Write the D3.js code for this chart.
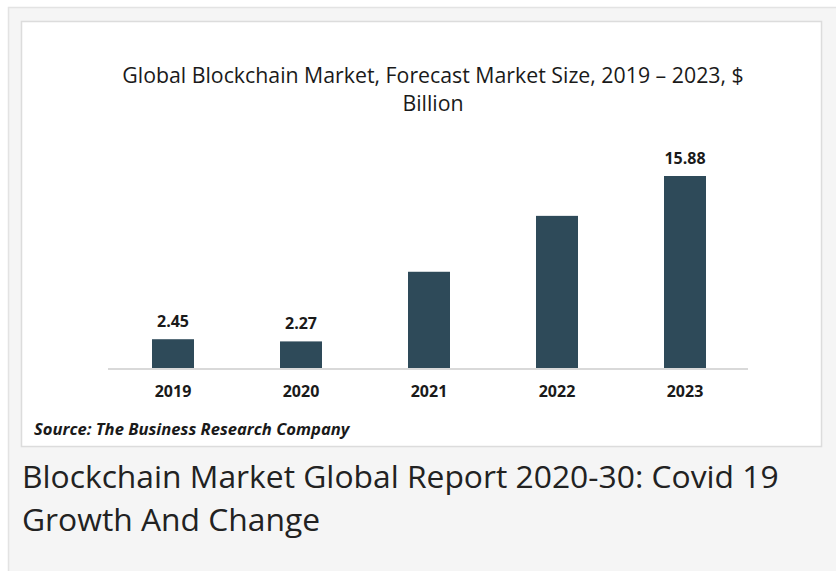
<!DOCTYPE html>
<html>
<head>
<meta charset="utf-8">
<script src="https://cdn.jsdelivr.net/npm/d3@7"></script>
<style>
  html, body { margin: 0; padding: 0; background: #ffffff; }
  svg { display: block; }
</style>
</head>
<body>
<svg id="chart" width="836" height="571"></svg>
<script>
const categories = ["2019", "2020", "2021", "2022", "2023"];
const values = [2.45, 2.27, 8.0, 12.6, 15.88];
const valueLabels = ["2.45", "2.27", "", "", "15.88"];
const titleLines = ["Global Blockchain Market, Forecast Market Size, 2019 \u2013 2023, $", "Billion"];
const sourceText = "Source: The Business Research Company";
const captionLines = ["Blockchain Market Global Report 2020-30: Covid 19", "Growth And Change"];

const svg = d3.select("#chart");
const font = "'Open Sans', sans-serif";

// page background panels
svg.append("rect").attr("x", 8.5).attr("y", 7.5).attr("width", 840).attr("height", 580)
  .attr("fill", "#f5f5f5").attr("stroke", "#e3e3e3").attr("stroke-width", 1.5);
svg.append("rect").attr("x", 21.5).attr("y", 21.5).attr("width", 800).attr("height", 425)
  .attr("fill", "#ffffff").attr("stroke", "#dcdcdc").attr("stroke-width", 1.5);

// title
const title = svg.append("text").attr("text-anchor", "middle")
  .attr("font-family", font).attr("font-size", 21.3).attr("fill", "#1a1a1a");
titleLines.forEach((t, i) => {
  title.append("tspan").attr("x", 433).attr("y", 83 + i * 27.5).text(t);
});

// scales
const x = d3.scaleBand().domain(categories).range([109, 749]).paddingInner(0.672).paddingOuter(0.336);
const y = d3.scaleLinear().domain([0, 15.88]).range([369, 176]);

// bars
svg.append("g").selectAll("rect").data(values).join("rect")
  .attr("x", (d, i) => x(categories[i]))
  .attr("y", d => y(d))
  .attr("width", x.bandwidth())
  .attr("height", d => y(0) - y(d))
  .attr("fill", "#2e4a59");

// baseline axis
const xAxis = d3.axisBottom(x).tickSize(0).tickPadding(17);
const gx = svg.append("g").attr("transform", `translate(0,${y(0)})`).call(xAxis);
gx.select(".domain").attr("stroke", "#d9d9d9").attr("stroke-width", 2)
  .attr("d", "M108,0H748");
gx.selectAll("text").attr("font-family", font).attr("font-size", 16)
  .attr("font-weight", "bold").attr("fill", "#1a1a1a");

// value labels
svg.append("g").selectAll("text").data(values).join("text")
  .attr("x", (d, i) => x(categories[i]) + x.bandwidth() / 2)
  .attr("y", d => y(d) - 12)
  .attr("text-anchor", "middle")
  .attr("font-family", font).attr("font-size", 16).attr("font-weight", "bold")
  .attr("fill", "#1a1a1a")
  .text((d, i) => valueLabels[i]);

// source
svg.append("text").attr("x", 34).attr("y", 435)
  .attr("font-family", font).attr("font-size", 16.6).attr("font-weight", "bold")
  .attr("font-style", "italic").attr("fill", "#1a1a1a").text(sourceText);

// caption
const cap = svg.append("text").attr("font-family", font).attr("font-size", 31.8).attr("fill", "#222");
captionLines.forEach((t, i) => {
  cap.append("tspan").attr("x", 22).attr("y", 488 + i * 43).text(t);
});
</script>
</body>
</html>
